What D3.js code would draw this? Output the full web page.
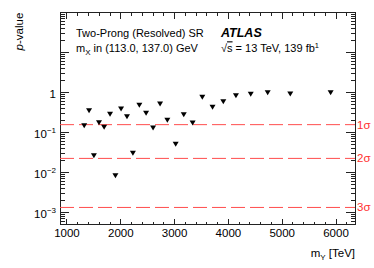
<!doctype html>
<html lang="en">
<head>
  <meta charset="utf-8">
  <script src="https://d3js.org/d3.v7.min.js"></script>
  <style>
    body { margin: 0; background: #fff; }
    text { font-family: "Liberation Sans", Arial, Helvetica, sans-serif; }
  </style>
</head>
<body>
  <script>
    // chart values
    var masses = [1320, 1410, 1500, 1595, 1690, 1800, 1900, 2005, 2115, 2225,
                  2345, 2470, 2600, 2730, 2865, 3020, 3170, 3335, 3515, 3705,
                  3905, 4140, 4415, 4730, 5150, 5900];
    var pvalues = [0.150, 0.355, 0.0266, 0.178, 0.136, 0.288, 0.0084, 0.391, 0.251, 0.0305,
                   0.484, 0.305, 0.131, 0.522, 0.204, 0.0513, 0.282, 0.175, 0.767, 0.432,
                   0.596, 0.841, 0.912, 0.99, 0.928, 0.99];
    var sigmaValues = [0.1587, 0.02275, 0.00135];
    var sigmaLabels = ["1σ", "2σ", "3σ"];
    var xTicks = [1000, 2000, 3000, 4000, 5000, 6000];
    var yLabelTicks = [1, 0.1, 0.01, 0.001];
    var yLabelExp = ["", "−1", "−2", "−3"];

    var width = 374, height = 268;
    var plotLeft = 60, plotRight = 355, plotTop = 12.7, plotBottom = 224.7;

    var svg = d3.select("body").append("svg")
        .attr("width", width)
        .attr("height", height);

    var x = d3.scaleLinear().domain([870, 6353]).range([plotLeft, plotRight]);
    var y = d3.scaleLog().domain([5e-4, 100]).range([plotBottom, plotTop]);

    // minor ticks
    var xMinor = d3.range(1000, 6400, 200);
    var yMinor = [];
    [1e-4, 1e-3, 1e-2, 1e-1, 1, 10].forEach(function(dec) {
      for (var k = 2; k <= 9; k++) {
        var v = dec * k;
        if (v >= 5e-4 && v <= 100) yMinor.push(v);
      }
    });
    var yMajor = [1e-3, 1e-2, 1e-1, 1, 10, 100];

    var axes = svg.append("g")
        .attr("stroke", "#222")
        .attr("shape-rendering", "crispEdges");

    function hTicks(vals, len) {
      vals.forEach(function(v) {
        var px = x(v);
        axes.append("line").attr("x1", px).attr("x2", px)
            .attr("y1", plotBottom).attr("y2", plotBottom - len);
        axes.append("line").attr("x1", px).attr("x2", px)
            .attr("y1", plotTop).attr("y2", plotTop + len);
      });
    }
    function vTicks(vals, len) {
      vals.forEach(function(v) {
        var py = y(v);
        axes.append("line").attr("x1", plotLeft).attr("x2", plotLeft + len)
            .attr("y1", py).attr("y2", py);
        axes.append("line").attr("x1", plotRight).attr("x2", plotRight - len)
            .attr("y1", py).attr("y2", py);
      });
    }
    hTicks(xMinor, 3);
    hTicks(xTicks, 6);
    vTicks(yMinor, 4.5);
    vTicks(yMajor, 9);

    axes.append("rect")
        .attr("x", plotLeft).attr("y", plotTop)
        .attr("width", plotRight - plotLeft).attr("height", plotBottom - plotTop)
        .attr("fill", "none");

    // x tick labels
    svg.append("g").selectAll("text")
        .data(xTicks)
      .enter().append("text")
        .attr("x", function(d) { return x(d); })
        .attr("y", 237)
        .attr("text-anchor", "middle")
        .style("font-size", "11.5px")
        .text(function(d) { return d; });

    // y tick labels
    var yl = svg.append("g").selectAll("text")
        .data(yLabelTicks)
      .enter().append("text")
        .attr("x", 56)
        .attr("y", function(d) { return y(d) + 5; })
        .attr("text-anchor", "end")
        .style("font-size", "11.5px");
    yl.append("tspan").text(function(d, i) { return i === 0 ? "1" : "10"; });
    yl.append("tspan")
        .attr("dy", -5)
        .style("font-size", "8px")
        .text(function(d, i) { return yLabelExp[i]; });

    // significance lines
    svg.append("g").selectAll("line")
        .data(sigmaValues)
      .enter().append("line")
        .attr("x1", plotLeft).attr("x2", plotRight)
        .attr("y1", function(d) { return y(d); })
        .attr("y2", function(d) { return y(d); })
        .attr("stroke", "#ff4d4d")
        .attr("stroke-width", 1)
        .attr("stroke-dasharray", "14,5");

    svg.append("g").selectAll("text")
        .data(sigmaValues)
      .enter().append("text")
        .attr("x", 357)
        .attr("y", function(d) { return y(d) + 4; })
        .attr("fill", "#ff3030")
        .style("font-size", "11.5px")
        .text(function(d, i) { return sigmaLabels[i]; });

    // data markers (downward triangles)
    svg.append("g").selectAll("path")
        .data(masses)
      .enter().append("path")
        .attr("transform", function(d, i) { return "translate(" + x(d) + "," + y(pvalues[i]) + ")"; })
        .attr("d", "M-3,-2.5L3,-2.5L0,2.5Z")
        .attr("fill", "#000");

    // axis titles
    var xt = svg.append("text")
        .attr("x", 355).attr("y", 257)
        .attr("text-anchor", "end")
        .style("font-size", "11.5px");
    xt.append("tspan").text("m");
    xt.append("tspan").attr("dy", 3).style("font-size", "8px").text("Y");
    xt.append("tspan").attr("dy", -3).text(" [TeV]");

    var yt = svg.append("text")
        .attr("transform", "translate(23," + plotTop + ") rotate(-90)")
        .attr("text-anchor", "end")
        .style("font-size", "11.5px");
    yt.append("tspan").style("font-style", "italic").text("p");
    yt.append("tspan").text("-value");

    // annotations
    svg.append("text")
        .attr("x", 76).attr("y", 36.7)
        .style("font-size", "11px")
        .text("Two-Prong (Resolved) SR");
    var t2 = svg.append("text")
        .attr("x", 76).attr("y", 52.3)
        .style("font-size", "11px");
    t2.append("tspan").text("m");
    t2.append("tspan").attr("dy", 3).style("font-size", "8px").text("X");
    t2.append("tspan").attr("dy", -3).text(" in (113.0, 137.0) GeV");

    svg.append("text")
        .attr("x", 221).attr("y", 36.7)
        .style("font-size", "12.5px")
        .style("font-weight", "bold")
        .style("font-style", "italic")
        .text("ATLAS");
    var t3 = svg.append("text")
        .attr("x", 221).attr("y", 52.3)
        .style("font-size", "11px");
    t3.append("tspan").text("√");
    t3.append("tspan").style("text-decoration", "overline").text("s");
    t3.append("tspan").text(" = 13 TeV, 139 fb");
    t3.append("tspan").attr("dy", -4).style("font-size", "7.5px").text("1");
  </script>
</body>
</html>
